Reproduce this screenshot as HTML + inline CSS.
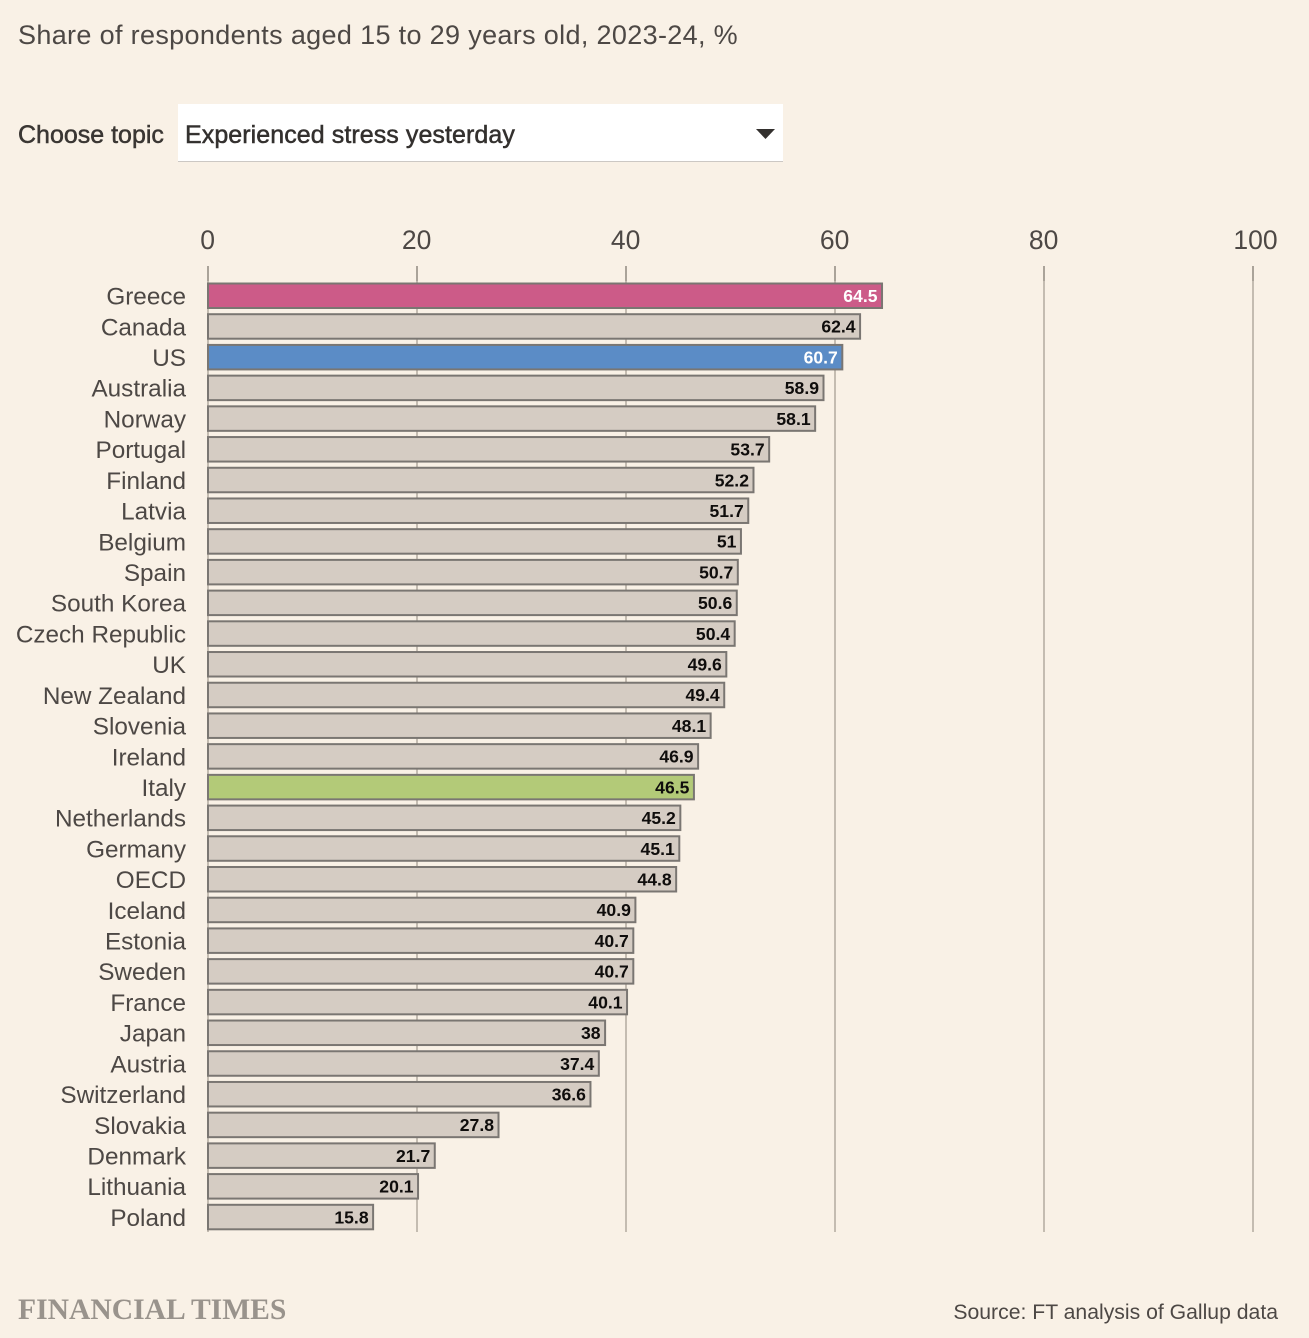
<!DOCTYPE html>
<html lang="en">
<head>
<meta charset="utf-8">
<title>Share of respondents aged 15 to 29 years old</title>
<style>
html,body{margin:0;padding:0;background:#f9f1e6;}
body{width:1309px;height:1338px;position:relative;overflow:hidden;font-family:"Liberation Sans",sans-serif;}
.abs{position:absolute;white-space:nowrap;}
#chart{position:absolute;left:0;top:0;}
#chart text{font-family:"Liberation Sans",sans-serif;}
</style>
</head>
<body>
<div class="abs" style="left:18px;top:19px;font-size:27px;line-height:32px;letter-spacing:0.34px;color:#4d4845;">Share of respondents aged 15 to 29 years old, 2023-24, %</div>
<div class="abs" style="left:18px;top:120px;font-size:25px;line-height:30px;color:#3a3633;-webkit-text-stroke:0.5px #3a3633;">Choose topic</div>
<div class="abs" style="left:178px;top:104px;width:605px;height:57px;background:#fff;border-bottom:1px solid #ccc8c4;">
  <div class="abs" style="left:7px;top:16px;font-size:25px;line-height:30px;letter-spacing:0.07px;color:#33302e;-webkit-text-stroke:0.5px #33302e;">Experienced stress yesterday</div>
  <svg class="abs" style="left:578px;top:25px;" width="19" height="10"><polygon points="0,0 19,0 9.5,10" fill="#33302e"></polygon></svg>
</div>
<svg id="chart" width="1309" height="1338" xmlns="http://www.w3.org/2000/svg"></svg>
<div class="abs" style="left:18px;top:1293px;font-family:'Liberation Serif',serif;font-weight:bold;font-size:29.6px;line-height:35px;color:#99938c;">FINANCIAL TIMES</div>
<div class="abs" style="right:31px;top:1300px;font-size:21.2px;line-height:26px;color:#4d4845;">Source: FT analysis of Gallup data</div>
<script>
const categories = ["Greece","Canada","US","Australia","Norway","Portugal","Finland","Latvia","Belgium","Spain","South Korea","Czech Republic","UK","New Zealand","Slovenia","Ireland","Italy","Netherlands","Germany","OECD","Iceland","Estonia","Sweden","France","Japan","Austria","Switzerland","Slovakia","Denmark","Lithuania","Poland"];
const values = [64.5,62.4,60.7,58.9,58.1,53.7,52.2,51.7,51,50.7,50.6,50.4,49.6,49.4,48.1,46.9,46.5,45.2,45.1,44.8,40.9,40.7,40.7,40.1,38,37.4,36.6,27.8,21.7,20.1,15.8];
const tickLabels = [0,20,40,60,80,100];
const highlightFill = {"Greece":"#cc5b88","US":"#5b8cc6","Italy":"#b3ca78"};
const lightText = ["Greece","US"];

const svg = document.getElementById('chart');
const NS = 'http://www.w3.org/2000/svg';
const X0 = 208, X1 = 1253, MAXV = 100;
const Y0 = 283, ROW = 30.71, BARH = 24.5;
function xScale(v){ return X0 + (v / MAXV) * (X1 - X0); }
function yScale(i){ return Y0 + i * ROW; }
function make(tag, attrs){
  const el = document.createElementNS(NS, tag);
  for (const k in attrs) el.setAttribute(k, attrs[k]);
  return el;
}

tickLabels.forEach(function(t, i){
  const x = xScale(t);
  const isLast = i === tickLabels.length - 1;
  const grid = make('line', {x1:x, x2:x, y1:266, y2:1232, stroke:'#c4bcb1', 'stroke-width':2});
  
  
  svg.appendChild(grid);
  const tick = make('line', {x1:x, x2:x, y1:266, y2:281, stroke:'#aaa399', 'stroke-width':2});
  
  
  svg.appendChild(tick);
  const label = make('text', {x:x + (isLast ? 2.5 : -0.4), y:249, 'text-anchor':'middle', 'font-size':26.5, fill:'#4d4845'});
  
  
  label.textContent = t;
  svg.appendChild(label);
});

categories.forEach(function(c, i){
  const v = values[i];
  const y = yScale(i);
  const light = lightText.indexOf(c) >= 0;
  const label = make('text', {x:186, y:y + 21.6, 'text-anchor':'end', 'font-size':24.3, fill:'#4d4845'});
  
  
  label.textContent = c;
  svg.appendChild(label);
  const bar = make('rect', {x:X0, y:y + 0.5, width:xScale(v) - X0, height:BARH, fill:highlightFill[c] || '#d5ccc3', stroke:'#7a7672', 'stroke-width':2});
  
  
  svg.appendChild(bar);
  const val = make('text', {x:xScale(v) - 4.5, y:y + 19, 'text-anchor':'end', 'font-size':17.6, 'font-weight':'bold', fill: light ? '#ffffff' : '#0f0d0c'});
  
  
  val.textContent = v;
  svg.appendChild(val);
});
</script>
</body>
</html>
